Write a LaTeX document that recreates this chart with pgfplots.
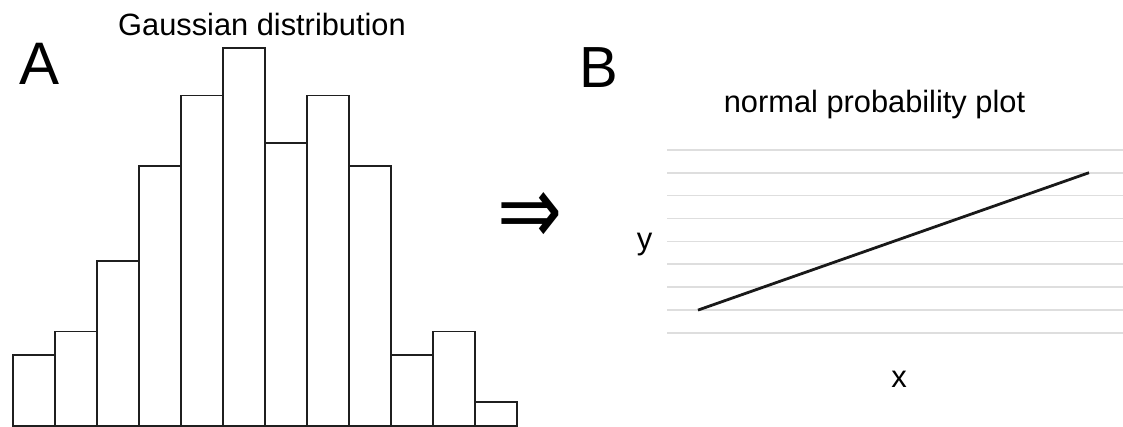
\documentclass[border=0pt]{standalone}
\usepackage{fontspec}
\setmainfont{Liberation Sans}
\newfontfamily\symfont{DejaVu Sans}
\usepackage{graphicx}
\usepackage{pgfplots}
\pgfplotsset{compat=1.18}

\begin{document}
\begin{tikzpicture}
\useasboundingbox (0,0) rectangle (1123pt,427pt);

% Panel A: histogram of a roughly Gaussian sample (12 equal bins)
\begin{axis}[
  at={(13pt,1pt)}, anchor=south west,
  scale only axis, width=504pt, height=377.6pt,
  xmin=0, xmax=12, ymin=0, ymax=16,
  hide axis, clip=false]
\addplot[ybar interval, draw=black!88, line width=1.8pt, fill=white]
  coordinates {(0,3) (1,4) (2,7) (3,11) (4,14) (5,16) (6,12)
               (7,14) (8,11) (9,3) (10,4) (11,1) (12,1)};
\end{axis}

% Panel B: normal probability plot, a straight line over light grid rules
\begin{axis}[
  at={(667pt,94pt)}, anchor=south west,
  scale only axis, width=456pt, height=183.2pt,
  xmin=0, xmax=456, ymin=0, ymax=8,
  ytick={0,...,8}, yticklabels={}, xtick=\empty,
  major tick length=0pt,
  ymajorgrids, grid style={draw=black!13, line width=1.6pt},
  axis line style={draw=none}, clip=false]
\addplot[black!90, line width=2.8pt] coordinates {(31,1) (422,7)};
\end{axis}

% Labels
\node[anchor=base, inner sep=0, font=\fontsize{30.8}{36}\selectfont]
  at (262pt,391.5pt) {Gaussian distribution};
\node[anchor=base west, inner sep=0, font=\fontsize{60}{70}\selectfont]
  at (19.5pt,342pt) {A};
\node[anchor=base west, inner sep=0, font=\fontsize{58}{68}\selectfont]
  at (579pt,339pt) {B};
\node[anchor=base, inner sep=0, font=\fontsize{30.8}{36}\selectfont]
  at (874.5pt,314.5pt) {normal probability plot};
\node[anchor=base, inner sep=0, font=\fontsize{31}{36}\selectfont]
  at (644.5pt,177pt) {y};
\node[anchor=base, inner sep=0, font=\fontsize{31}{36}\selectfont]
  at (899pt,39pt) {x};
\node[inner sep=0] at (530.5pt,208pt) {\resizebox{65pt}{52pt}{\symfont ⇒}};
\end{tikzpicture}
\end{document}
